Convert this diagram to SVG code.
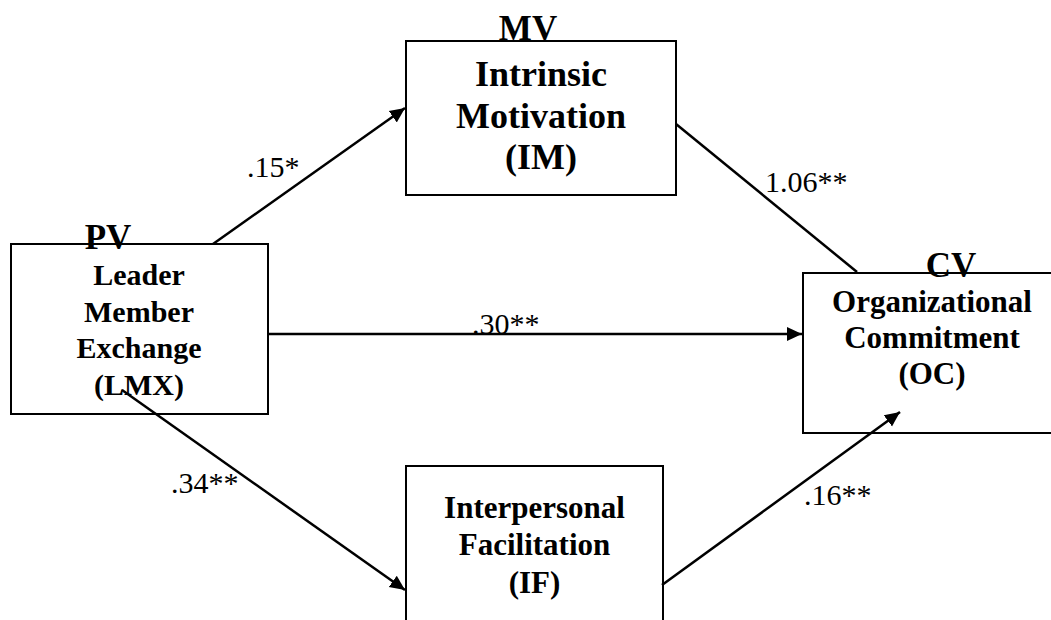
<svg xmlns="http://www.w3.org/2000/svg" width="1051" height="620" viewBox="0 0 1051 620">
<style>
.box{fill:#fff;stroke:#000;stroke-width:2}
.t{font-family:"Liberation Serif","Times New Roman",serif;font-weight:bold;text-anchor:middle;fill:#000}
.tag{font-family:"Liberation Serif","Times New Roman",serif;font-weight:bold;font-size:35px;text-anchor:middle;fill:#000}
.lbl{font-family:"Liberation Serif","Times New Roman",serif;font-size:30px;fill:#000}
.c{stroke:#000;stroke-width:2.5;fill:none}
</style>
<defs>
<marker id="ah" markerUnits="userSpaceOnUse" markerWidth="16" markerHeight="16" viewBox="0 0 16 16" refX="15" refY="8" orient="auto">
<path d="M0,1 L15,8 L0,15 Z" fill="#000"/>
</marker>
</defs>
<rect width="1051" height="620" fill="#fff"/>
<g id="node-lmx">
<rect class="box" x="11" y="244" width="257" height="170"/>
<text class="t" font-size="30" x="139" y="285">Leader</text>
<text class="t" font-size="30" x="139" y="322">Member</text>
<text class="t" font-size="30" x="139" y="358">Exchange</text>
<text class="t" font-size="30" x="139" y="395">(LMX)</text>
<text class="tag" x="108" y="249">PV</text>
</g>
<g id="node-im">
<rect class="box" x="406" y="41" width="270" height="154"/>
<text class="tag" x="528" y="40">MV</text>
<text class="t" font-size="36" x="541" y="86">Intrinsic</text>
<text class="t" font-size="36" x="541" y="128">Motivation</text>
<text class="t" font-size="36" x="541" y="169">(IM)</text>
</g>
<g id="node-oc">
<rect class="box" x="803" y="273" width="270" height="160"/>
<text class="tag" x="951" y="277">CV</text>
<text class="t" font-size="31" x="932" y="312">Organizational</text>
<text class="t" font-size="31" x="932" y="348">Commitment</text>
<text class="t" font-size="31" x="932" y="384">(OC)</text>
</g>
<g id="node-if">
<rect class="box" x="406" y="466" width="257" height="180"/>
<text class="t" font-size="31" x="534.5" y="518">Interpersonal</text>
<text class="t" font-size="31" x="534.5" y="555">Facilitation</text>
<text class="t" font-size="31" x="534.5" y="593">(IF)</text>
</g>
<g id="connectors">
<line class="c" x1="213" y1="244" x2="405" y2="108" marker-end="url(#ah)"/>
<line class="c" x1="676" y1="124" x2="857" y2="272"/>
<line class="c" x1="268" y1="334" x2="802" y2="334" marker-end="url(#ah)"/>
<line class="c" x1="122" y1="390" x2="405" y2="590" marker-end="url(#ah)"/>
<line class="c" x1="662" y1="585" x2="900" y2="412" marker-end="url(#ah)"/>
<text class="lbl" x="247" y="177">.15*</text>
<text class="lbl" x="765" y="192">1.06**</text>
<text class="lbl" x="472" y="334">.30**</text>
<text class="lbl" x="171" y="493">.34**</text>
<text class="lbl" x="804" y="505">.16**</text>
</g>
</svg>
